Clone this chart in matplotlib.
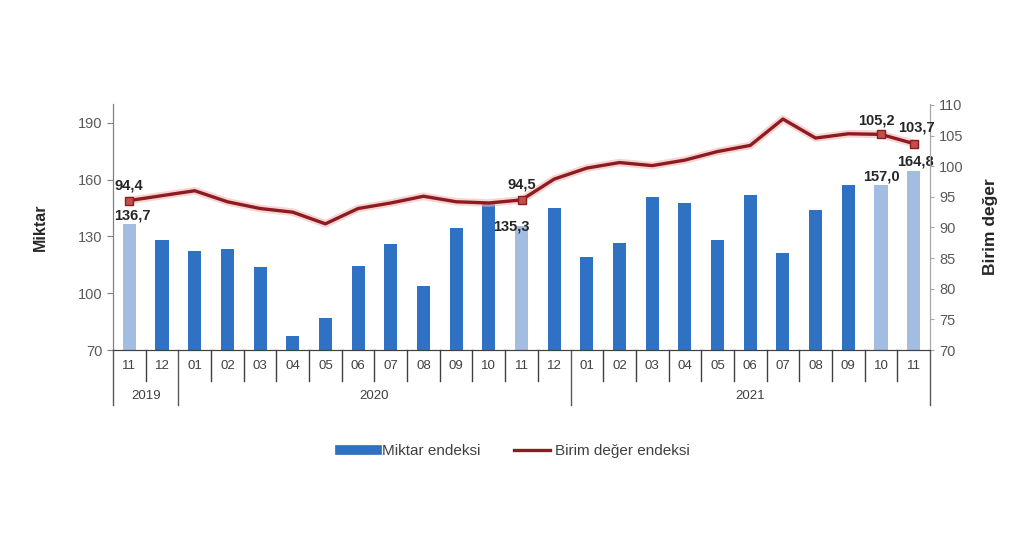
import matplotlib
matplotlib.use("Agg")
import matplotlib.pyplot as plt
from matplotlib.lines import Line2D
import matplotlib.transforms as mtransforms

plt.rcParams['font.family'] = ['Liberation Sans', 'DejaVu Sans']

months = ["11", "12", "01", "02", "03", "04", "05", "06", "07", "08", "09", "10",
          "11", "12", "01", "02", "03", "04", "05", "06", "07", "08", "09", "10", "11"]
years = ["2019", "2020", "2021"]
year_spans = [(0, 1), (2, 13), (14, 24)]

miktar = [136.7, 127.9, 122.1, 123.5, 113.8, 77.2, 86.8, 114.5, 125.8, 103.9, 134.6, 147.6,
          135.3, 145.0, 119.4, 126.5, 151.0, 147.8, 127.9, 151.7, 121.2, 143.8, 157.0, 157.0, 164.8]
birim = [94.4, 95.2, 96.0, 94.2, 93.1, 92.5, 90.6, 93.1, 94.0, 95.1, 94.2, 94.0,
         94.5, 97.9, 99.7, 100.6, 100.1, 101.0, 102.4, 103.4, 107.7, 104.6, 105.3, 105.2, 103.7]
highlight = [0, 12, 23, 24]

dark_blue = "#2F72C4"
light_blue = "#A3BCE2"
red = "#8E1B1F"

def fmt(v):
    return f"{v:.1f}".replace(".", ",")

fig = plt.figure(figsize=(10.24, 5.6), dpi=100)
ax = fig.add_axes([113/1024, 1-350/560, 817/1024, 246/560])
ax2 = ax.twinx()

x = list(range(len(months)))
colors = [light_blue if i in highlight else dark_blue for i in x]
ax.bar(x, miktar, width=0.4, color=colors, zorder=2)
ax.set_xlim(-0.5, len(months)-0.5)
ax.set_ylim(70, 200)
ax.set_yticks([70, 100, 130, 160, 190])
ax2.set_ylim(70, 110.16)
ax2.set_yticks(range(70, 111, 5))

ax2.plot(x, birim, color="#F2B8B8", lw=5.5, alpha=0.6, zorder=3, solid_capstyle='round')
ax2.plot(x, birim, color=red, lw=2.4, zorder=4)
ax2.plot([x[i] for i in highlight], [birim[i] for i in highlight], 's', ms=6,
         color="#C0504D", mec=red, mew=1.0, zorder=5)

# spines
for a in (ax, ax2):
    a.spines['top'].set_visible(False)
    a.spines['left'].set_color("#7F7F7F")
    a.spines['right'].set_color("#A6A6A6")
    a.spines['bottom'].set_color("#404040")
ax.spines['left'].set_bounds(70, 200)
ax.set_xticks([])
ax.tick_params(axis='y', colors="#7F7F7F", labelcolor="#595959", labelsize=10.5, length=4, direction='out')
ax2.tick_params(axis='y', colors="#A6A6A6", labelcolor="#595959", labelsize=10.5, length=3, direction='out')

ax.set_ylabel("Miktar", fontsize=11.5, fontweight='bold', labelpad=22, color="#262626")
ax2.set_ylabel("Birim değer", fontsize=12.5, fontweight='bold', labelpad=14, color="#262626")

# category axis
tr = mtransforms.blended_transform_factory(ax.transData, ax.transAxes)
for i in range(len(months)+1):
    b = i - 0.5
    is_year = b in (-0.5, 1.5, 13.5, len(months)-0.5)
    ax.plot([b, b], [0, -0.225 if is_year else -0.125], color="#404040" if not is_year else "#595959",
            lw=1.0, transform=tr, clip_on=False)
for i, m in enumerate(months):
    ax.text(i, -0.065, m, transform=tr, ha='center', va='center', fontsize=9.5, color="#404040")
for yname, (s, e) in zip(years, year_spans):
    ax.text((s+e)/2, -0.185, yname, transform=tr, ha='center', va='center', fontsize=9.5, color="#404040")

# labels
bar_lab_off = {0: (0.1, 0.8), 12: (-0.3, -3.5), 23: (0.0, 1.2), 24: (0.05, 1.2)}
for i in highlight:
    dx, dy = bar_lab_off[i]
    ax.text(i+dx, miktar[i]+dy, fmt(miktar[i]), ha='center', va='bottom', fontsize=10.5,
            fontweight='bold', color="#262626", zorder=6)
line_lab_off = {0: (0.0, 1.3), 12: (0.0, 1.3), 23: (-0.15, 1.2), 24: (0.1, 1.4)}
for i in highlight:
    dx, dy = line_lab_off[i]
    ax2.text(i+dx, birim[i]+dy, fmt(birim[i]), ha='center', va='bottom', fontsize=10.5,
             fontweight='bold', color="#262626", zorder=6)

handles = [Line2D([0], [0], color=dark_blue, lw=7), Line2D([0], [0], color=red, lw=2.4)]
fig.legend(handles, ["Miktar endeksi", "Birim değer endeksi"], loc='center',
           bbox_to_anchor=(0.503, 1-451/560), ncol=2, frameon=False, fontsize=11,
           handlelength=2.4, handletextpad=0.3, columnspacing=2.2, labelcolor="#404040")

fig.savefig("out.png", dpi=100, facecolor="white")
